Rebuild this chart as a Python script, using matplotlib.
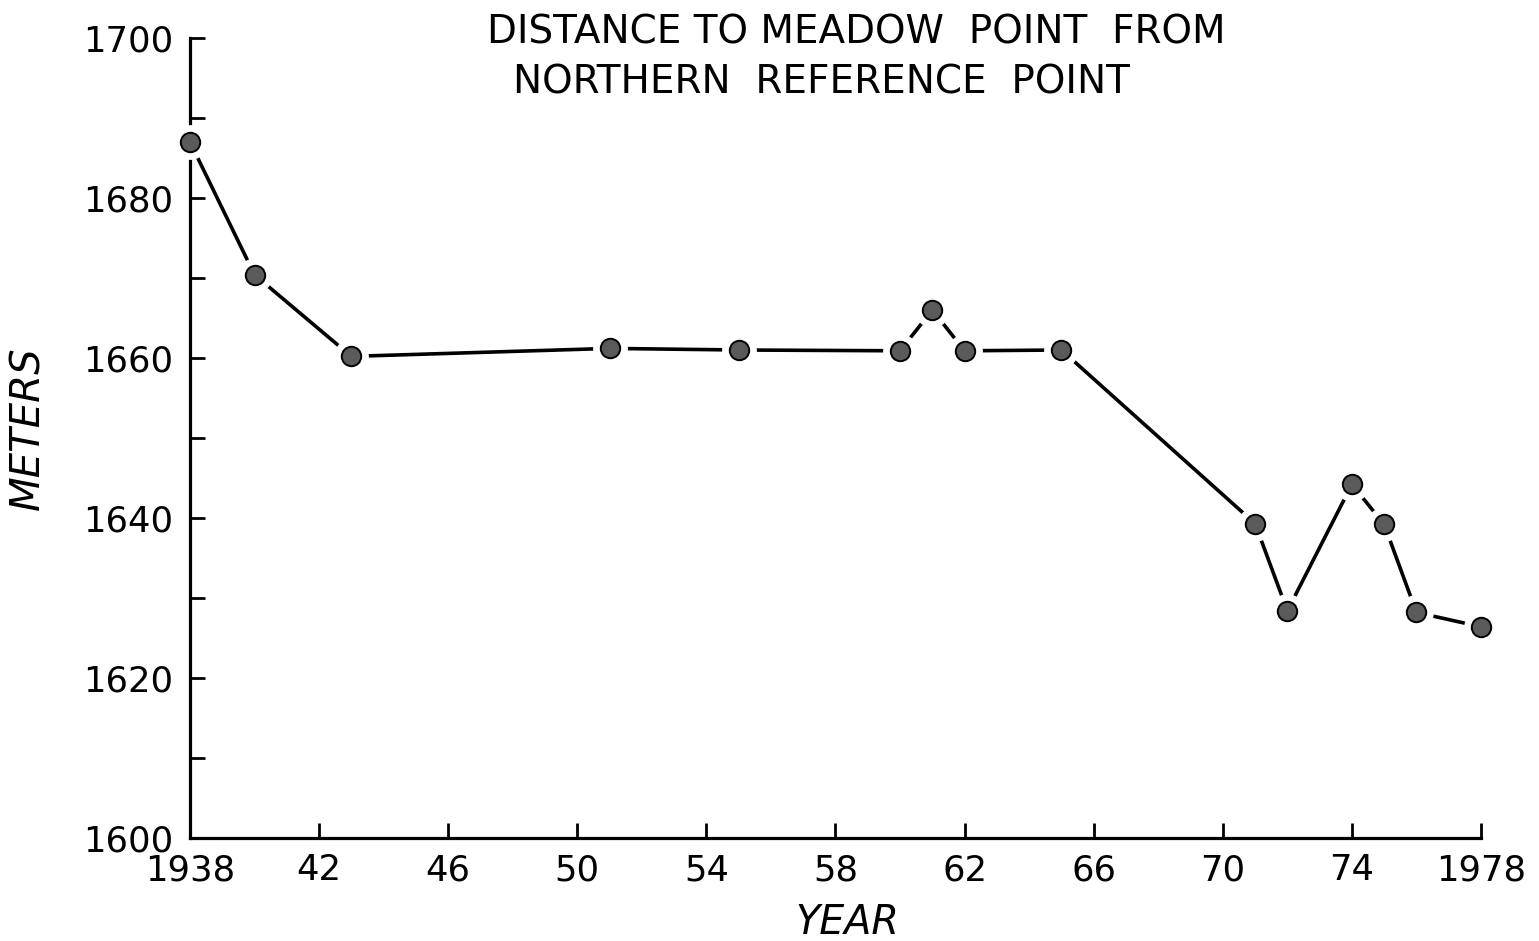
import matplotlib
matplotlib.use("Agg")
import matplotlib.pyplot as plt
from matplotlib.ticker import MultipleLocator

years = [1938, 1940, 1943, 1951, 1955, 1960, 1961, 1962, 1965, 1971, 1972, 1974, 1975, 1976, 1978]
meters = [1687.0, 1670.4, 1660.2, 1661.2, 1661.0, 1660.9, 1666.0, 1660.9, 1661.0, 1639.3, 1628.4, 1644.2, 1639.2, 1628.2, 1626.4]

xtick_vals = [1938, 1942, 1946, 1950, 1954, 1958, 1962, 1966, 1970, 1974, 1978]
xtick_labels = ["1938", "42", "46", "50", "54", "58", "62", "66", "70", "74", "1978"]
ytick_vals = [1600, 1620, 1640, 1660, 1680, 1700]

title1 = "DISTANCE TO MEADOW  POINT  FROM"
title2 = "NORTHERN  REFERENCE  POINT"

plt.rcParams['font.family'] = ['DejaVu Sans']

W, H = 1539, 941
fig = plt.figure(figsize=(W / 100, H / 100), dpi=100)
ax = fig.add_axes([190 / W, 1 - 838 / H, (1481 - 190) / W, (838 - 38) / H])

ax.plot(years, meters, color='black', lw=2.6, zorder=2, clip_on=False)
ax.plot(years, meters, 'o', ms=24, color='white', mec='white', zorder=3, clip_on=False, ls='none')
ax.plot(years, meters, 'o', ms=14, color='#5a5a5a', mec='black', mew=1.4, zorder=4, clip_on=False, ls='none')

ax.set_xlim(1938, 1978)
ax.set_ylim(1600, 1700)
ax.set_xticks(xtick_vals)
ax.set_xticklabels(xtick_labels)
ax.set_yticks(ytick_vals)
ax.yaxis.set_minor_locator(MultipleLocator(10))

for s in ['top', 'right']:
    ax.spines[s].set_visible(False)
for s in ['left', 'bottom']:
    ax.spines[s].set_linewidth(2.3)
    ax.spines[s].set_zorder(1)

ax.tick_params(axis='both', which='both', direction='in', length=11, width=2.0, labelsize=25.5)
ax.tick_params(axis='x', pad=11)
ax.tick_params(axis='y', pad=12)

fig.text(487 / W, 1 - 14 / H, title1, fontsize=28, ha='left', va='top')
fig.text(513 / W, 1 - 64 / H, title2, fontsize=28, ha='left', va='top')

fig.text(28 / W, 1 - 428 / H, "METERS", fontsize=29, style='italic', rotation=90, ha='center', va='center')
fig.text(847 / W, 1 - 922 / H, "YEAR", fontsize=28.5, style='italic', ha='center', va='center')

fig.savefig("out.png", dpi=100)
